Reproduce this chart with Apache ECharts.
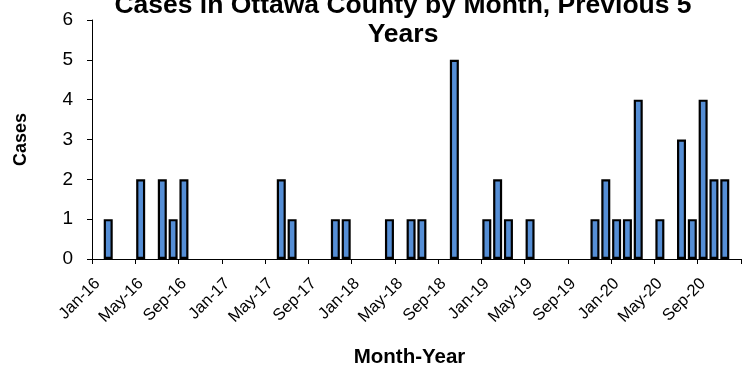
<!DOCTYPE html>
<html>
<head>
<meta charset="utf-8">
<script src="https://cdn.jsdelivr.net/npm/echarts@6/dist/echarts.min.js"></script>
<style>
html,body{margin:0;padding:0;background:#fff;}
#chart{width:751px;height:373px;}
</style>
</head>
<body>
<div id="chart"></div>
<script>
const monthNames = ["Jan","Feb","Mar","Apr","May","Jun","Jul","Aug","Sep","Oct","Nov","Dec"];
const years = ["16","17","18","19","20"];
const categories = [];
years.forEach(y => monthNames.forEach(m => categories.push(m + "-" + y)));

// Cases per month, Jan-16 .. Dec-20
const cases2016 = [0,1,0,0,2,0,2,1,2,0,0,0];
const cases2017 = [0,0,0,0,0,2,1,0,0,0,1,1];
const cases2018 = [0,0,0,1,0,1,1,0,0,5,0,0];
const cases2019 = [1,2,1,0,1,0,0,0,0,0,1,2];
const cases2020 = [1,1,4,0,1,0,3,1,4,2,2,0];
const values = [].concat(cases2016, cases2017, cases2018, cases2019, cases2020);

const yTicks = [0,1,2,3,4,5,6];

const chart = echarts.init(document.getElementById('chart'), null, {renderer:'canvas'});
const font = "'Liberation Sans', Arial, sans-serif";
chart.setOption({
  animation: false,
  backgroundColor: '#ffffff',
  title: {
    text: "Cases in Ottawa County by Month, Previous 5\nYears",
    left: 398,
    top: -14,
    textAlign: 'center',
    textStyle: {fontFamily: font, fontWeight: 'bold', fontSize: 26.5, lineHeight: 29, color: '#000'}
  },
  grid: {left: 92, right: 10, top: 20, bottom: 113, containLabel: false},
  xAxis: {
    type: 'category',
    data: categories,
    boundaryGap: true,
    name: 'Month-Year',
    nameLocation: 'middle',
    nameGap: 88,
    nameTextStyle: {fontFamily: font, fontWeight: 'bold', fontSize: 20.5, color: '#000', padding: [0, 14, 0, 0]},
    axisLine: {lineStyle: {color: '#000', width: 1}},
    axisTick: {show: true, interval: 3, alignWithLabel: false, length: 5, lineStyle: {color: '#000'}},
    axisLabel: {interval: 3, rotate: 45, fontFamily: font, fontSize: 16.5, color: '#000', margin: 22},
    splitLine: {show: false}
  },
  yAxis: {
    type: 'value',
    min: yTicks[0],
    max: yTicks[yTicks.length - 1],
    interval: 1,
    name: 'Cases',
    nameLocation: 'middle',
    nameGap: 62,
    nameTextStyle: {fontFamily: font, fontWeight: 'bold', fontSize: 18, color: '#000'},
    axisLine: {show: true, lineStyle: {color: '#000', width: 1}},
    axisTick: {show: true, inside: false, length: 5, lineStyle: {color: '#000'}},
    axisLabel: {fontFamily: font, fontSize: 19, color: '#000', margin: 19},
    splitLine: {show: false}
  },
  series: [{
    type: 'bar',
    data: values.map(v => v === 0 ? '-' : v),
    barWidth: 9,
    itemStyle: {color: '#558ED5', borderColor: '#000', borderWidth: 2.2}
  }]
});
</script>
</body>
</html>
